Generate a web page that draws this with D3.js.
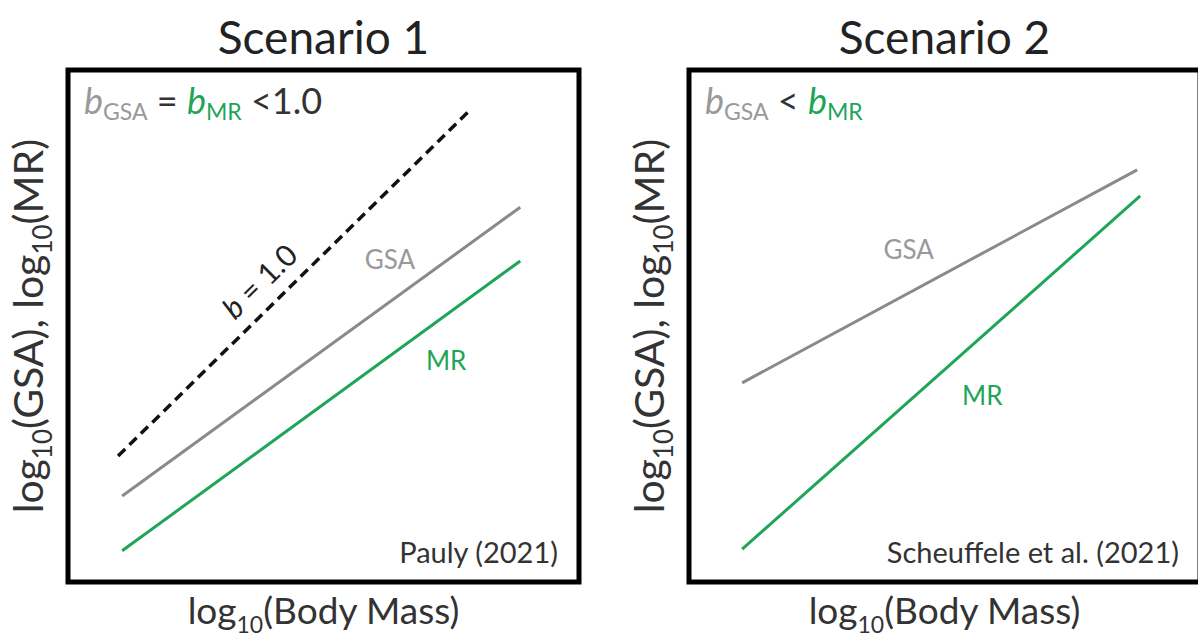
<!DOCTYPE html>
<html><head><meta charset="utf-8">
<script src="https://cdn.jsdelivr.net/npm/d3@7"></script>
<style>
html,body{margin:0;padding:0;background:#fff;}
svg{display:block;font-family:Lato,"Open Sans",sans-serif;}
</style></head>
<body>
<svg id="chart" width="1198" height="638"></svg>
<script>
// ---- data (abstract log-log units, 0..10) ----
const panels = ["Scenario 1", "Scenario 2"];
const citations = ["Pauly (2021)", "Scheuffele et al. (2021)"];
// Scenario 1 lines: [x1, y1, x2, y2]
const s1Isometric = [0.98, 2.46, 7.83, 9.18];
const s1GSA = [1.06, 1.68, 8.85, 7.32];
const s1MR = [1.06, 0.61, 8.85, 6.27];
// Scenario 2 lines
const s2GSA = [1.04, 3.89, 8.77, 8.05];
const s2MR = [1.04, 0.64, 8.83, 7.54];
const domainX = [0, 10];
const domainY = [0, 10];

const svg = d3.select("#chart");
const GREY = "#8a8a8a", GREEN = "#1fa558", TXT = "#333";
const boxes = [{x0: 68, x1: 579}, {x0: 689, x1: 1200}];
const yTop = 70, yBot = 582;

function toPts(a){ return [[a[0], a[1]], [a[2], a[3]]]; }

boxes.forEach((b, i) => {
  const g = svg.append("g");
  const x = d3.scaleLinear().domain(domainX).range([b.x0, b.x1]);
  const y = d3.scaleLinear().domain(domainY).range([yBot, yTop]);
  const line = d3.line().x(d => x(d[0])).y(d => y(d[1]));
  const cx = (b.x0 + b.x1) / 2;

  // title
  g.append("text").attr("x", cx).attr("y", 54).attr("text-anchor", "middle")
    .attr("font-size", 46).attr("fill", "#222").text(panels[i]);

  // frame
  g.append("rect").attr("x", b.x0).attr("y", yTop).attr("width", b.x1 - b.x0)
    .attr("height", yBot - yTop).attr("fill", "none").attr("stroke", "#000").attr("stroke-width", 5);

  // x label
  const xl = g.append("text").attr("x", cx).attr("y", 624).attr("text-anchor", "middle")
    .attr("font-size", 37).attr("fill", TXT);
  xl.append("tspan").text("log");
  xl.append("tspan").attr("font-size", 23).attr("dy", 9).text("10");
  xl.append("tspan").attr("dy", -9).text("(Body Mass)");

  // y label
  const yl = g.append("text").attr("transform", `translate(${b.x0 - 25},${(yTop + yBot) / 2}) rotate(-90)`)
    .attr("text-anchor", "middle").attr("font-size", 41).attr("fill", TXT);
  yl.append("tspan").text("log");
  yl.append("tspan").attr("font-size", 26).attr("dy", 9).text("10");
  yl.append("tspan").attr("dy", -9).text("(GSA), log");
  yl.append("tspan").attr("font-size", 26).attr("dy", 9).text("10");
  yl.append("tspan").attr("dy", -9).text("(MR)");

  // citation
  g.append("text").attr("x", b.x1 - 21).attr("y", 563).attr("text-anchor", "end")
    .attr("font-size", 29).attr("fill", TXT).text(citations[i]);

  // formula
  const f = g.append("text").attr("x", b.x0 + 16).attr("y", 114).attr("font-size", 36);
  f.append("tspan").attr("font-style", "italic").attr("fill", "#999").text("b");
  f.append("tspan").attr("font-size", 23).attr("dy", 6).attr("fill", "#999").text("GSA");
  if (i === 0) {
    f.append("tspan").attr("dy", -6).attr("fill", TXT).text(" = ");
    f.append("tspan").attr("font-style", "italic").attr("fill", GREEN).text("b");
    f.append("tspan").attr("font-size", 23).attr("dy", 6).attr("fill", GREEN).text("MR");
    f.append("tspan").attr("dy", -6).attr("fill", TXT).text(" <1.0");
  } else {
    f.append("tspan").attr("dy", -6).attr("fill", TXT).text(" < ");
    f.append("tspan").attr("font-style", "italic").attr("fill", GREEN).text("b");
    f.append("tspan").attr("font-size", 23).attr("dy", 6).attr("fill", GREEN).text("MR");
  }

  if (i === 0) {
    g.append("path").attr("d", line(toPts(s1Isometric))).attr("fill", "none")
      .attr("stroke", "#111").attr("stroke-width", 3.5).attr("stroke-dasharray", "10,6");
    g.append("path").attr("d", line(toPts(s1GSA))).attr("fill", "none")
      .attr("stroke", GREY).attr("stroke-width", 3);
    g.append("path").attr("d", line(toPts(s1MR))).attr("fill", "none")
      .attr("stroke", GREEN).attr("stroke-width", 3);
    // b = 1.0 label along dashed line
    const ang = Math.atan2(y(s1Isometric[3]) - y(s1Isometric[1]), x(s1Isometric[2]) - x(s1Isometric[0])) * 180 / Math.PI;
    const bl = g.append("text").attr("transform", `translate(${x(3.9)},${y(5.72)}) rotate(${ang})`)
      .attr("text-anchor", "middle").attr("font-size", 30).attr("fill", "#222");
    bl.append("tspan").attr("font-style", "italic").text("b");
    bl.append("tspan").text(" = 1.0");
    g.append("text").attr("x", x(6.3)).attr("y", y(6.12)).attr("text-anchor", "middle")
      .attr("font-size", 26).attr("fill", "#999").text("GSA");
    g.append("text").attr("x", x(7.4)).attr("y", y(4.15)).attr("text-anchor", "middle")
      .attr("font-size", 26).attr("fill", GREEN).text("MR");
  } else {
    g.append("path").attr("d", line(toPts(s2GSA))).attr("fill", "none")
      .attr("stroke", GREY).attr("stroke-width", 3);
    g.append("path").attr("d", line(toPts(s2MR))).attr("fill", "none")
      .attr("stroke", GREEN).attr("stroke-width", 3);
    g.append("text").attr("x", x(4.3)).attr("y", y(6.3)).attr("text-anchor", "middle")
      .attr("font-size", 26).attr("fill", "#999").text("GSA");
    g.append("text").attr("x", x(5.74)).attr("y", y(3.45)).attr("text-anchor", "middle")
      .attr("font-size", 26).attr("fill", GREEN).text("MR");
  }
});
</script>
</body></html>
